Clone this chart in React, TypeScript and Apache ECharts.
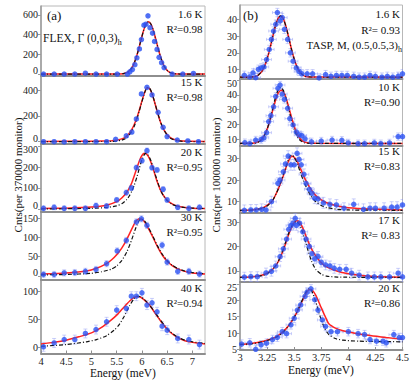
import React, { useEffect, useRef } from "react";
import * as echarts from "echarts";

type Pt = [number, number];

// ---------------- DATA ----------------
const flexEnergyTicks = [4, 4.5, 5, 5.5, 6, 6.5, 7];
const taspEnergyTicks = [3, 3.25, 3.5, 3.75, 4, 4.25, 4.5];
const flexEnergyRange = [4, 7.25];
const taspEnergyRange = [3, 4.5];

const flexCountTicks = [[0, 200, 400, 600], [0, 200, 400], [0, 100, 200, 300], [0, 50, 100, 150], [0, 50, 100]];
const taspCountTicks = [[10, 20, 30, 40], [10, 20, 30, 40, 50], [10, 20, 30], [10, 20, 30], [5, 10, 15, 20, 25]];
const flexCountRanges = [[-20, 690], [-14, 509], [-12, 312], [-9, 167], [-11, 122]];
const taspCountRanges = [[4.4, 48.5], [5.8, 50.8], [4.8, 35.9], [5.4, 33.7], [4.8, 25.6]];

const flexTemps = ["1.6 K", "15 K", "20 K", "30 K", "40 K"];
const flexR2 = ["R²=0.98", "R²=0.98", "R²=0.95", "R²=0.95", "R²=0.94"];
const taspTemps = ["1.6 K", "10 K", "15 K", "17 K", "20 K"];
const taspR2 = ["R²= 0.93", "R²=0.90", "R²=0.83", "R²= 0.83", "R²=0.86"];

const flexCountErr = [12, 12, 12, 8, 8];
const taspCountErr = [2.5, 2.5, 2.5, 2, 1.3];
const taspEnergyErr = 0.045;

// FLEX, Gamma (0,0,3)
const flex16Pts: Pt[] = [[4.05,0],[4.26,0],[4.46,0],[4.67,0],[4.88,8],[5.09,0],[5.3,0],[5.51,0],[5.71,0],[5.76,22],[5.81,45],[5.86,95],[5.9,165],[5.95,255],[5.99,350],[6.04,495],[6.08,505],[6.12,590],[6.16,470],[6.21,415],[6.25,330],[6.3,250],[6.34,170],[6.39,115],[6.44,65],[6.6,0],[6.81,0],[7.02,6]];
const flex16Fit: Pt[] = [[4,0],[5.5,0],[5.63,4],[5.68,10],[5.73,23],[5.78,48],[5.83,91],[5.88,157],[5.93,243],[5.98,342],[6.03,436],[6.08,505],[6.13,530],[6.18,505],[6.23,436],[6.28,342],[6.33,243],[6.38,157],[6.43,91],[6.48,48],[6.53,23],[6.58,10],[6.63,4],[6.75,0],[7.25,0]];
const flex16Model: Pt[] = flex16Fit;

const flex15Pts: Pt[] = [[4.05,0],[4.26,0],[4.46,-2],[4.67,0],[4.88,0],[5.09,0],[5.3,0],[5.48,18],[5.69,45],[5.8,75],[5.89,176],[5.99,370],[6.1,421],[6.2,362],[6.32,228],[6.42,111],[6.5,40],[6.7,13],[6.91,6],[7.12,0]];
const flex15Fit: Pt[] = [[4,2],[5,4],[5.4,8],[5.5,12],[5.6,22],[5.65,30],[5.7,44],[5.75,65],[5.8,95],[5.85,135],[5.9,185],[5.95,248],[6,315],[6.05,378],[6.1,418],[6.15,412],[6.2,372],[6.25,308],[6.3,238],[6.35,172],[6.4,120],[6.45,82],[6.5,55],[6.55,36],[6.6,24],[6.7,11],[6.8,6],[7.25,2]];
const flex15Model: Pt[] = [[4,0],[5.4,2],[5.5,5],[5.6,12],[5.65,20],[5.7,32],[5.75,52],[5.8,82],[5.85,122],[5.9,175],[5.95,240],[6,310],[6.05,375],[6.1,418],[6.15,415],[6.2,375],[6.25,310],[6.3,240],[6.35,175],[6.4,122],[6.45,82],[6.5,52],[6.55,32],[6.6,20],[6.7,8],[6.8,3],[7.25,0]];

const flex20Pts: Pt[] = [[4.05,3],[4.26,8],[4.46,3],[4.67,3],[4.88,3],[5.09,16],[5.3,14],[5.5,43],[5.69,78],[5.79,100],[5.89,197],[6,230],[6.1,278],[6.2,197],[6.3,186],[6.42,94],[6.5,43],[6.71,8],[6.93,3],[7.14,8]];
const flex20Fit: Pt[] = [[4,2],[4.5,4],[5,9],[5.3,18],[5.5,35],[5.6,52],[5.7,80],[5.75,100],[5.8,125],[5.85,160],[5.9,195],[5.95,230],[6,255],[6.05,265],[6.1,260],[6.15,240],[6.2,208],[6.25,170],[6.3,132],[6.35,100],[6.4,74],[6.5,42],[6.6,24],[6.7,14],[6.85,7],[7,4],[7.25,2]];
const flex20Model: Pt[] = [[4,0],[5,3],[5.3,7],[5.5,15],[5.6,25],[5.7,45],[5.75,62],[5.8,85],[5.85,115],[5.9,152],[5.95,195],[6,235],[6.05,260],[6.08,265],[6.12,258],[6.17,235],[6.22,200],[6.27,160],[6.32,122],[6.37,90],[6.42,65],[6.5,40],[6.6,22],[6.7,13],[6.85,7],[7,4],[7.25,2]];

const flex30Pts: Pt[] = [[4.05,4],[4.26,4],[4.46,8],[4.67,9],[4.88,12],[5.09,17],[5.3,32],[5.51,65],[5.69,92],[5.89,140],[5.99,148],[6.1,131],[6.4,80],[6.5,36],[6.71,12],[6.93,12],[7.14,5]];
const flex30Fit: Pt[] = [[4,5],[4.5,8],[4.9,13],[5.1,20],[5.3,32],[5.4,42],[5.5,55],[5.6,72],[5.7,95],[5.8,122],[5.88,142],[5.95,148],[6.02,145],[6.1,130],[6.2,105],[6.3,78],[6.4,55],[6.5,38],[6.6,27],[6.7,19],[6.85,12],[7,8],[7.25,5]];
const flex30Model: Pt[] = [[4,3],[4.5,4],[5,7],[5.2,11],[5.4,18],[5.5,26],[5.6,40],[5.7,62],[5.8,95],[5.88,125],[5.95,145],[5.98,148],[6.05,143],[6.1,133],[6.2,108],[6.3,80],[6.4,57],[6.5,40],[6.6,28],[6.7,20],[6.85,13],[7,9],[7.25,6]];

const flex40Pts: Pt[] = [[4.05,1],[4.26,8],[4.46,14],[4.67,14],[4.88,25],[5.09,32],[5.3,46],[5.5,67],[5.69,70],[5.79,92],[5.89,92],[6,98],[6.1,76],[6.2,80],[6.3,64],[6.4,38],[6.5,31],[6.71,16],[6.93,14],[7.14,5]];
const flex40Fit: Pt[] = [[4,6],[4.25,9],[4.5,13],[4.75,19],[5,26],[5.2,36],[5.4,50],[5.5,58],[5.6,68],[5.7,78],[5.8,87],[5.88,91],[5.95,91],[6.05,85],[6.15,76],[6.25,63],[6.35,50],[6.45,38],[6.55,28],[6.7,18],[6.85,12],[7,9],[7.25,6]];
const flex40Model: Pt[] = [[4,2],[4.5,5],[4.9,10],[5.1,14],[5.3,21],[5.45,31],[5.55,41],[5.65,56],[5.75,74],[5.83,86],[5.9,92],[5.97,91],[6.05,86],[6.15,76],[6.25,64],[6.35,51],[6.45,39],[6.55,29],[6.7,19],[6.85,13],[7,10],[7.25,7]];

// TASP, M (0.5,0.5,3)
const tasp16Pts: Pt[] = [[3.04,6.6],[3.09,5.6],[3.12,8],[3.145,5.2],[3.17,10.2],[3.195,11],[3.22,11.6],[3.245,16],[3.27,22],[3.29,28],[3.31,33],[3.33,37],[3.345,44],[3.37,39],[3.39,41],[3.41,34],[3.44,28],[3.465,20],[3.49,15],[3.52,11],[3.545,9],[3.57,7.5],[3.62,7.5],[3.67,7.5],[3.73,5],[3.79,7],[3.84,6],[3.89,6.5],[3.94,6.5],[3.99,6.5],[4.05,6],[4.1,5.5],[4.15,5.5],[4.2,6.5],[4.25,6],[4.31,5.5],[4.36,6],[4.41,5.5],[4.46,6],[4.5,7.5]];
const tasp16Fit: Pt[] = [[3,5.5],[3.1,5.6],[3.15,6],[3.175,7.1],[3.2,8.8],[3.225,11.8],[3.25,16.3],[3.275,22.2],[3.3,29],[3.325,35.5],[3.35,40.3],[3.375,42],[3.4,40.3],[3.425,35.5],[3.45,29],[3.475,22.2],[3.5,16.3],[3.525,11.8],[3.55,8.8],[3.575,7.1],[3.6,6],[3.65,5.6],[4.5,5.5]];
const tasp16Model: Pt[] = tasp16Fit;

const tasp10Pts: Pt[] = [[3.045,7.7],[3.09,7],[3.145,9.5],[3.195,9.8],[3.22,11],[3.245,14.5],[3.265,22],[3.285,26],[3.31,32],[3.33,39],[3.35,44.5],[3.37,46.7],[3.39,40.6],[3.41,37],[3.44,31],[3.46,24],[3.49,19.7],[3.52,15],[3.545,13],[3.57,12.5],[3.6,10.3],[3.66,8.3],[3.75,8.8],[3.85,9.5],[3.94,9.3],[4,7.5],[4.09,7],[4.15,7],[4.24,7.5],[4.3,7],[4.38,7.5],[4.46,11.8],[4.5,11.8]];
const tasp10Fit: Pt[] = [[3,7.2],[3.1,7.3],[3.13,7.5],[3.18,8.8],[3.205,10.5],[3.23,13.4],[3.255,17.8],[3.28,23.7],[3.305,30.4],[3.33,36.8],[3.355,41.5],[3.38,43.2],[3.405,41.5],[3.43,36.8],[3.455,30.4],[3.48,23.7],[3.505,17.8],[3.53,13.4],[3.555,10.5],[3.58,8.8],[3.63,7.5],[3.7,7.3],[4.5,7.2]];
const tasp10Model: Pt[] = [[3,7.2],[3.1,7.2],[3.15,7.4],[3.175,8.3],[3.2,9.7],[3.225,12.3],[3.25,16.7],[3.275,22.8],[3.3,30.3],[3.325,37.6],[3.35,43.1],[3.375,45.2],[3.4,43.1],[3.425,37.6],[3.45,30.3],[3.475,22.8],[3.5,16.7],[3.525,12.3],[3.55,9.7],[3.575,8.3],[3.6,7.5],[3.7,7.2],[4.5,7.2]];

const tasp15Pts: Pt[] = [[3.04,6],[3.1,6.2],[3.15,6.2],[3.2,6.5],[3.24,6.2],[3.29,10],[3.35,18.5],[3.37,20],[3.4,23.8],[3.42,27.4],[3.445,31],[3.47,27],[3.5,27],[3.527,32.3],[3.545,29.5],[3.565,27],[3.59,22.6],[3.61,18.5],[3.64,15.7],[3.665,13.9],[3.69,11.6],[3.72,11.3],[3.77,9.5],[3.83,8.8],[3.89,8.5],[3.96,7],[4.05,8.8],[4.14,6.5],[4.2,7],[4.25,7],[4.33,7],[4.4,7.5],[4.45,7.5],[4.5,8.5]];
const tasp15Fit: Pt[] = [[3,6],[3.1,6.2],[3.2,7],[3.25,8.3],[3.3,10.5],[3.35,15.5],[3.4,22],[3.43,26.5],[3.46,30],[3.48,31],[3.5,30.5],[3.53,28.5],[3.56,25],[3.6,20.5],[3.65,16],[3.7,12.8],[3.75,10.8],[3.8,9.5],[3.9,8],[4,7.2],[4.2,6.6],[4.5,6.2]];
const tasp15Model: Pt[] = [[3,6],[3.1,6.1],[3.2,6.8],[3.25,8],[3.3,10.5],[3.35,15.5],[3.4,22.5],[3.43,27],[3.46,31],[3.48,31.5],[3.5,30.5],[3.53,27.5],[3.56,23],[3.6,18],[3.65,13],[3.7,10],[3.75,8.3],[3.8,7.3],[3.9,6.5],[4,6.2],[4.5,6]];

const tasp17Pts: Pt[] = [[3.04,7.4],[3.1,7.6],[3.16,7.6],[3.24,9.1],[3.29,9.8],[3.33,12],[3.37,15.8],[3.4,19],[3.43,23],[3.45,27],[3.47,28.5],[3.49,29.5],[3.51,31.5],[3.52,28.6],[3.55,29.5],[3.58,26],[3.61,23],[3.64,20],[3.665,17],[3.69,14.9],[3.72,15.9],[3.75,13.5],[3.79,12.4],[3.83,12],[3.87,11],[3.92,10.6],[3.98,10.6],[4.03,9],[4.1,8.2],[4.18,7.5],[4.24,7.5],[4.3,7.5],[4.38,7.5],[4.46,9],[4.5,7.5]];
const tasp17Fit: Pt[] = [[3,7.3],[3.1,7.5],[3.2,8.2],[3.25,9],[3.3,10.5],[3.35,13.5],[3.4,18.5],[3.45,25],[3.49,29],[3.52,30.5],[3.55,30],[3.58,27.5],[3.62,23],[3.66,19],[3.7,16],[3.75,13.3],[3.8,11.6],[3.9,9.8],[4,8.8],[4.1,8.2],[4.25,7.7],[4.5,7.3]];
const tasp17Model: Pt[] = [[3,7.3],[3.1,7.4],[3.2,8],[3.25,8.8],[3.3,10.5],[3.35,13.5],[3.4,19],[3.45,25.5],[3.49,29.3],[3.52,30.2],[3.55,29],[3.58,25.5],[3.62,19.5],[3.66,14],[3.7,10.5],[3.75,8.6],[3.8,7.8],[3.9,7.4],[4.5,7.3]];

const tasp20Pts: Pt[] = [[3.015,6.6],[3.09,7],[3.145,5],[3.195,6.4],[3.245,6.9],[3.3,8],[3.345,8.7],[3.39,10.4],[3.43,9.8],[3.47,12.5],[3.5,14.5],[3.53,17],[3.56,18.6],[3.6,21.2],[3.62,22.5],[3.655,23.5],[3.69,20.2],[3.72,17],[3.76,14],[3.79,12],[3.84,10.4],[3.9,10.4],[4,10.4],[4.09,9.8],[4.15,9.5],[4.2,8],[4.26,7.5],[4.32,7.5],[4.35,7],[4.42,9.5],[4.47,8.6],[4.5,8.6]];
const tasp20Fit: Pt[] = [[3,6.5],[3.1,6.8],[3.2,7.3],[3.3,8.3],[3.35,9.2],[3.4,10.5],[3.45,12.3],[3.5,14.8],[3.55,18],[3.6,21.5],[3.64,23.3],[3.67,23],[3.7,21.5],[3.74,18.5],[3.78,15.5],[3.82,12.8],[3.88,11.5],[3.95,10.7],[4.05,10],[4.2,9.2],[4.35,8.6],[4.5,8.1]];
const tasp20Model: Pt[] = [[3,6.5],[3.1,6.7],[3.2,7.2],[3.3,8.2],[3.35,9],[3.4,10.3],[3.45,12.2],[3.5,14.8],[3.55,18.2],[3.6,22],[3.63,23.5],[3.66,23],[3.7,19.5],[3.74,15],[3.78,11.5],[3.82,9.5],[3.88,8.3],[3.95,7.8],[4.1,7.5],[4.5,7.3]];

const flexPoints = [flex16Pts, flex15Pts, flex20Pts, flex30Pts, flex40Pts];
const flexFits = [flex16Fit, flex15Fit, flex20Fit, flex30Fit, flex40Fit];
const flexModels = [flex16Model, flex15Model, flex20Model, flex30Model, flex40Model];
const taspPoints = [tasp16Pts, tasp10Pts, tasp15Pts, tasp17Pts, tasp20Pts];
const taspFits = [tasp16Fit, tasp10Fit, tasp15Fit, tasp17Fit, tasp20Fit];
const taspModels = [tasp16Model, tasp10Model, tasp15Model, tasp17Model, tasp20Model];

// ---------------- LAYOUT / STYLE ----------------
const FONT = '"Liberation Serif", "Times New Roman", Times, serif';
const colLayout = [
  { left: 41, width: 164, textX: 202.5, labelMargin: 2 },
  { left: 240, width: 162.5, textX: 400, labelMargin: 2 },
];
const rowLayout = [
  [[6, 70], [76, 67.5], [143.5, 68], [211.5, 68], [279.5, 74]],
  [[5, 74], [79, 66.5], [145.5, 67.5], [213, 69], [282, 68]],
];
const textRows = [
  [[14, 29], [82, 97], [152, 167], [217, 232], [288, 303]],
  [[14, 30], [87, 102], [151, 166], [220, 235], [288, 303]],
];

function buildOption() {
  const grid: any[] = [];
  const xAxis: any[] = [];
  const yAxis: any[] = [];
  const series: any[] = [];
  const graphic: any[] = [];

  for (let c = 0; c < 2; c++) {
    for (let r = 0; r < 5; r++) {
      const i = c * 5 + r;
      const [top, height] = rowLayout[c][r];
      const col = colLayout[c];
      const isBottom = r === 4;
      const eTicks = c === 0 ? flexEnergyTicks : taspEnergyTicks;
      const eRange = c === 0 ? flexEnergyRange : taspEnergyRange;
      const cTicks = c === 0 ? flexCountTicks[r] : taspCountTicks[r];
      const cRange = c === 0 ? flexCountRanges[r] : taspCountRanges[r];
      const pts = c === 0 ? flexPoints[r] : taspPoints[r];
      const fit = c === 0 ? flexFits[r] : taspFits[r];
      const model = c === 0 ? flexModels[r] : taspModels[r];
      const yErr = c === 0 ? flexCountErr[r] : taspCountErr[r];
      const xErr = c === 0 ? 0 : taspEnergyErr;

      // labels that sit right at a panel seam get nudged away from it
      const pxOf = (v: number) => ((v - cRange[0]) / (cRange[1] - cRange[0])) * height;
      const lowest = cTicks[0];
      const highest = cTicks[cTicks.length - 1];
      const nudgeUp = r < 4 && pxOf(lowest) < 5;
      const nudgeDown = r > 0 && height - pxOf(highest) < 5;

      grid.push({
        left: col.left, top, width: col.width, height,
        show: true, borderColor: "#b8b8b8", borderWidth: 1,
        containLabel: false, outerBoundsMode: "none",
      });
      xAxis.push({
        type: "value", gridIndex: i, min: eRange[0], max: eRange[1],
        axisLine: { show: true, onZero: false, lineStyle: { color: "#8e8e8e", width: 2 } },
        axisTick: { show: isBottom, length: 3, inside: true, customValues: eTicks, lineStyle: { color: "#8e8e8e" } },
        axisLabel: {
          show: isBottom, customValues: eTicks, fontFamily: FONT, fontSize: 10.5,
          color: "#222", margin: col.labelMargin, formatter: (v: number) => String(v),
        },
        splitLine: { show: false },
      });
      yAxis.push({
        type: "value", gridIndex: i, min: cRange[0], max: cRange[1],
        axisLine: { show: true, onZero: false, lineStyle: { color: "#9a9a9a", width: 1.5 } },
        axisTick: { show: true, length: 3, customValues: cTicks, lineStyle: { color: "#9a9a9a" } },
        axisLabel: {
          customValues: cTicks, fontFamily: FONT, fontSize: 10, color: "#222", margin: 3,
          formatter: (v: number) => {
            if (nudgeUp && v === lowest) return `{u|${v}}`;
            if (nudgeDown && v === highest) return `{d|${v}}`;
            return String(v);
          },
          rich: {
            u: { fontFamily: FONT, fontSize: 10, color: "#222", padding: [0, 0, 7, 0] },
            d: { fontFamily: FONT, fontSize: 10, color: "#222", padding: [7, 0, 0, 0] },
          },
        },
        splitLine: { show: false },
      });

      const errColor = "rgba(140,150,245,0.45)";
      series.push({
        type: "custom", xAxisIndex: i, yAxisIndex: i, data: pts, clip: true, z: 1, silent: true,
        encode: { x: 0, y: 1 },
        renderItem: (_p: any, api: any) => {
          const x = api.value(0);
          const y = api.value(1);
          const lo = api.coord([x, y - yErr]);
          const hi = api.coord([x, y + yErr]);
          const st = { stroke: errColor, lineWidth: 1 };
          const ch: any[] = [
            { type: "line", shape: { x1: lo[0], y1: lo[1], x2: hi[0], y2: hi[1] }, style: st },
            { type: "line", shape: { x1: lo[0] - 2, y1: lo[1], x2: lo[0] + 2, y2: lo[1] }, style: st },
            { type: "line", shape: { x1: hi[0] - 2, y1: hi[1], x2: hi[0] + 2, y2: hi[1] }, style: st },
          ];
          if (xErr) {
            const l = api.coord([x - xErr, y]);
            const rr = api.coord([x + xErr, y]);
            ch.push(
              { type: "line", shape: { x1: l[0], y1: l[1], x2: rr[0], y2: rr[1] }, style: st },
              { type: "line", shape: { x1: l[0], y1: l[1] - 1.5, x2: l[0], y2: l[1] + 1.5 }, style: st },
              { type: "line", shape: { x1: rr[0], y1: rr[1] - 1.5, x2: rr[0], y2: rr[1] + 1.5 }, style: st },
            );
          }
          return { type: "group", children: ch };
        },
      });
      series.push({
        type: "line", xAxisIndex: i, yAxisIndex: i, data: fit, showSymbol: false, symbol: "none",
        smooth: 0.2, z: 2, silent: true, lineStyle: { color: "#ff2222", width: 1.5 },
      });
      series.push({
        type: "line", xAxisIndex: i, yAxisIndex: i, data: model, showSymbol: false, symbol: "none",
        smooth: 0.2, z: 3, silent: true, lineStyle: { color: "#111", width: 1.2, type: [4, 2, 1, 2] },
      });
      series.push({
        type: "scatter", xAxisIndex: i, yAxisIndex: i, data: pts, symbolSize: 5.5, z: 4, silent: true,
        itemStyle: { color: "#2c52f2" },
      });

      const [ty, ry] = textRows[c][r];
      const temp = c === 0 ? flexTemps[r] : taspTemps[r];
      const r2 = c === 0 ? flexR2[r] : taspR2[r];
      graphic.push(
        { type: "text", x: col.textX, y: ty, z: 10, style: { text: temp, fontFamily: FONT, fontSize: 11, fill: "#111", align: "right", verticalAlign: "middle" } },
        { type: "text", x: col.textX, y: ry, z: 10, style: { text: r2, fontFamily: FONT, fontSize: 11, fill: "#111", align: "right", verticalAlign: "middle" } },
      );
    }
  }

  graphic.push(
    { type: "text", x: 47, y: 15, z: 10, style: { text: "(a)", fontFamily: FONT, fontSize: 13, fill: "#111", align: "left", verticalAlign: "middle" } },
    { type: "text", x: 243, y: 15, z: 10, style: { text: "(b)", fontFamily: FONT, fontSize: 13, fill: "#111", align: "left", verticalAlign: "middle" } },
    {
      type: "text", x: 43, y: 38, z: 10,
      style: {
        text: "FLEX, Γ (0,0,3){s|h}", fontFamily: FONT, fontSize: 11.5, lineHeight: 16, fill: "#111",
        align: "left", verticalAlign: "middle",
        rich: { s: { fontFamily: FONT, fontSize: 8, lineHeight: 8, verticalAlign: "bottom", fill: "#111" } },
      },
    },
    {
      type: "text", x: 402, y: 45, z: 10,
      style: {
        text: "TASP, M, (0.5,0.5,3){s|h}", fontFamily: FONT, fontSize: 11, lineHeight: 16, fill: "#111",
        align: "right", verticalAlign: "middle",
        rich: { s: { fontFamily: FONT, fontSize: 8, lineHeight: 8, verticalAlign: "bottom", fill: "#111" } },
      },
    },
    { type: "text", x: 123, y: 373, z: 10, style: { text: "Energy (meV)", fontFamily: FONT, fontSize: 11.5, fill: "#111", align: "center", verticalAlign: "middle" } },
    { type: "text", x: 321, y: 369.5, z: 10, style: { text: "Energy (meV)", fontFamily: FONT, fontSize: 11.5, fill: "#111", align: "center", verticalAlign: "middle" } },
    { type: "text", x: 18, y: 175, rotation: Math.PI / 2, z: 10, style: { text: "Cnts(per 370000 monitor)", fontFamily: FONT, fontSize: 11, fill: "#111", align: "center", verticalAlign: "middle" } },
    { type: "text", x: 216, y: 175, rotation: Math.PI / 2, z: 10, style: { text: "Cnts(per 100000 monitor)", fontFamily: FONT, fontSize: 11, fill: "#111", align: "center", verticalAlign: "middle" } },
  );

  return {
    animation: false,
    backgroundColor: "#ffffff",
    grid, xAxis, yAxis, series, graphic,
  };
}

export default function App() {
  const ref = useRef<HTMLDivElement>(null);
  useEffect(() => {
    if (!ref.current) return;
    const chart = echarts.init(ref.current, null, { renderer: "svg" });
    chart.setOption(buildOption() as any);
    return () => chart.dispose();
  }, []);
  return (
    <div
      ref={ref}
      style={{ position: "fixed", left: 0, top: 0, width: 415, height: 381, background: "#fff" }}
    />
  );
}
